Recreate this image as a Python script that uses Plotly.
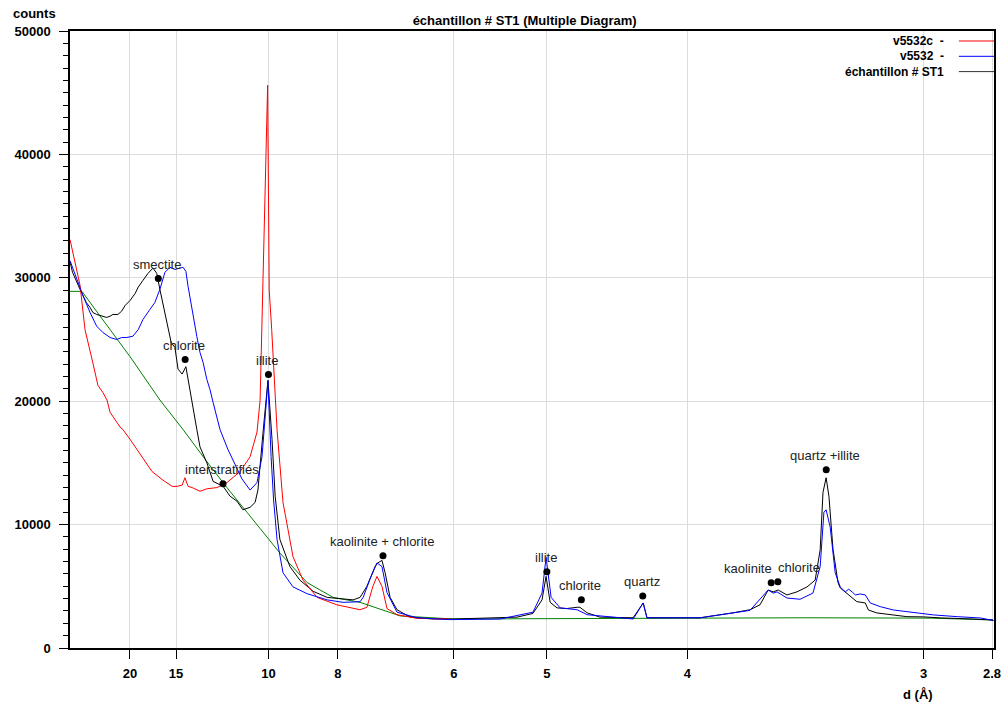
import math
import plotly.graph_objects as go

WAVELENGTH = 1.5406  # Cu K-alpha (Å)


def d_to_2theta(d):
    return 2 * math.degrees(math.asin(WAVELENGTH / (2 * d)))


# ---------------- data (x in degrees 2-theta, y in counts) ----------------
red_2theta = [2.50, 2.82, 2.98, 3.14, 3.23, 3.39, 3.55, 3.68, 3.78, 4.10, 4.19, 4.42,
              4.73, 5.12, 5.47, 5.76, 5.92, 6.08, 6.17, 6.27, 6.40, 6.65, 6.87, 7.19,
              7.51, 7.93, 8.25, 8.47, 8.57, 8.66, 8.81, 8.86, 8.94, 9.11, 9.30, 9.46,
              9.62, 9.94, 10.39, 11.02, 11.76, 11.98, 12.17, 12.30, 12.46, 12.62, 12.94,
              13.58, 14.41, 14.63]
red_counts = [33100, 29400, 25800, 23900, 23100, 21300, 20700, 20100, 19100, 17900, 17700, 16900,
              15700, 14300, 13600, 13100, 13100, 13200, 13800, 13100, 13000, 12700, 12900, 13000,
              13400, 14300, 15500, 17500, 20100, 29000, 45600, 29000, 25800, 17700, 11800, 9600,
              7400, 5500, 4100, 3500, 3100, 3300, 5000, 5800, 5000, 3200, 2700,
              2400, 2350, 2350]

black_2theta = [2.50, 2.58, 2.82, 3.02, 3.14, 3.23, 3.35, 3.51, 3.67, 3.78, 3.87, 4.03,
                4.15, 4.26, 4.42, 4.58, 4.68, 4.83, 4.99, 5.15, 5.27, 5.37, 5.58, 5.73,
                5.85, 5.95, 6.08, 6.20, 6.33, 6.43, 6.55, 6.65, 6.87, 7.07, 7.39, 7.61,
                7.83, 8.02, 8.25, 8.41, 8.50, 8.66, 8.82, 8.95, 9.05, 9.20, 9.52, 9.84,
                10.26, 10.71, 11.22, 11.54, 11.76, 11.98, 12.24, 12.33, 12.46, 12.56, 12.72,
                12.94, 13.36, 14.09, 14.73, 15.69, 16.77, 17.28, 17.57, 17.70, 17.83, 18.05,
                18.37, 18.69, 18.78, 19.01, 19.42, 20.48, 20.80, 20.92, 21.56, 22.62, 23.67,
                24.21, 24.53, 24.79, 24.95, 25.11, 25.39, 25.71, 26.03, 26.29, 26.45, 26.54,
                26.64, 26.73, 26.86, 27.02, 27.09, 27.30, 27.50, 27.62, 27.89, 27.99, 28.26,
                28.69, 29.22, 29.75, 30.29, 31.34, 31.97]
black_counts = [31300, 30450, 29060, 28000, 27600, 27190, 27030, 26890, 26790, 26890, 27030, 27030,
                27300, 27760, 28170, 28730, 29250, 29790, 30360, 30790, 30360, 29060, 26620, 24760,
                24350, 22600, 22200, 22800, 20900, 19300, 17700, 16300, 15000, 13500, 13100, 12300,
                11900, 11200, 11400, 11800, 12800, 17400, 21700, 16900, 12300, 8800, 6600, 5500,
                4600, 4100, 4000, 3900, 4100, 5000, 6600, 6900, 7100, 6100, 4100,
                3100, 2500, 2350, 2350, 2400, 2500, 2800, 3900, 5800, 3700, 3250,
                3200, 3300, 3300, 2850, 2500, 2450, 3650, 2450, 2450, 2450, 2850,
                3100, 3500, 4700, 4550, 4700, 4300, 4550, 4950, 5500, 7950, 12600,
                13800, 12300, 8000, 5300, 4870, 4460, 4060, 3760, 3650, 3080, 2840,
                2680, 2540, 2520, 2440, 2350, 2270]

blue_2theta = [2.50, 2.71, 2.92, 3.14, 3.35, 3.55, 3.78, 3.99, 4.15, 4.31, 4.51, 4.68,
               4.83, 5.05, 5.21, 5.37, 5.53, 5.69, 5.85, 6.11, 6.20, 6.27, 6.43, 6.55,
               6.65, 6.75, 6.87, 6.97, 7.07, 7.29, 7.54, 7.77, 7.99, 8.25, 8.47, 8.63,
               8.73, 8.82, 8.92, 9.00, 9.11, 9.30, 9.62, 10.07, 10.71, 11.22, 11.76, 11.86,
               12.08, 12.30, 12.46, 12.62, 12.94, 13.58, 14.63, 16.23, 17.28, 17.57, 17.70,
               17.86, 18.15, 18.69, 19.01, 20.48, 20.80, 20.92, 22.62, 24.21, 24.79, 24.95,
               25.07, 25.39, 25.81, 26.22, 26.45, 26.57, 26.64, 26.77, 26.93, 27.09, 27.25,
               27.36, 27.47, 27.57, 27.73, 27.89, 28.05, 28.37, 28.79, 29.22, 29.65, 30.07,
               30.83, 31.58, 31.99]
blue_counts = [31390, 29870, 28520, 27190, 26080, 25570, 25160, 25000, 25160, 25160, 25270, 25810,
               26620, 27430, 28000, 29060, 30440, 30850, 30680, 30850, 30520, 29300, 26870, 25240,
               23950, 23130, 21750, 20940, 19890, 17700, 16100, 14800, 13700, 12800, 13400, 15500,
               18800, 21600, 15500, 12000, 8800, 6100, 4950, 4400, 3900, 3700, 3750, 4100,
               5600, 6900, 6600, 4500, 2900, 2450, 2300, 2350, 2900, 4450, 7350,
               4100, 3250, 3100, 2700, 2350, 3650, 2450, 2450, 3050, 4700, 4450,
               4550, 4050, 3950, 4450, 6600, 11000, 11200, 9800, 6100, 4950, 4550,
               4760, 4550, 4300, 4380, 4300, 3650, 3350, 3080, 2940, 2840, 2680,
               2540, 2430, 2220]

green_2theta = [2.50, 2.88, 3.46, 4.42, 5.37, 6.11, 6.87, 7.51, 8.15, 9.20, 10.07, 10.90,
                11.76, 13.04, 14.73, 20.00, 26.00, 30.00, 31.97]
green_counts = [28900, 28900, 26900, 23600, 20100, 17700, 15100, 13000, 11000, 7700, 5300, 4100,
                3700, 2600, 2350, 2400, 2450, 2420, 2270]

# peak identifications
peak_labels = ["smectite", "chlorite", "illite", "interstratifiés", "kaolinite + chlorite",
               "illite", "chlorite", "quartz", "kaolinite", "chlorite", "quartz +illite"]
peak_d = [16.6, 14.3, 10.0, 11.96, 7.08, 5.0, 4.71, 4.27, 3.575, 3.545, 3.343]
peak_counts = [29950, 23380, 22160, 13310, 7470, 6170, 3900, 4220, 5280, 5360, 14450]

# axis ticks (d-spacing in Å)
d_ticks = [20, 15, 10, 8, 6, 5, 4, 3, 2.8]
d_tick_labels = ["20", "15", "10", "8", "6", "5", "4", "3", "2.8"]
y_ticks = [0, 10000, 20000, 30000, 40000, 50000]

legend_names = ["v5532c\u00a0\u00a0-", "v5532\u00a0\u00a0-", "échantillon # ST1"]
legend_colors = ["#ff0000", "#0000ff", "#333333"]

FONT = "Liberation Sans, Arial, sans-serif"

fig = go.Figure()
fig.add_trace(go.Scatter(x=green_2theta, y=green_counts, mode="lines",
                         line=dict(color="#008000", width=1)))
fig.add_trace(go.Scatter(x=black_2theta, y=black_counts, mode="lines",
                         line=dict(color="#000000", width=1)))
fig.add_trace(go.Scatter(x=red_2theta, y=red_counts, mode="lines",
                         line=dict(color="#ff0000", width=1)))
fig.add_trace(go.Scatter(x=blue_2theta, y=blue_counts, mode="lines",
                         line=dict(color="#0000ff", width=1)))

peak_x = [d_to_2theta(d) for d in peak_d]
fig.add_trace(go.Scatter(x=peak_x, y=peak_counts, mode="markers",
                         marker=dict(color="black", size=7)))
# the two close 3.5 Å labels are pushed apart so they stay readable
label_style = {8: ("right", 3), 9: ("left", -2)}
for i, (lab, px, py) in enumerate(zip(peak_labels, peak_x, peak_counts)):
    anchor, shift = label_style.get(i, ("center", -1))
    fig.add_annotation(x=px, y=py, text=lab, showarrow=False, yshift=14, xshift=shift,
                       xanchor=anchor,
                       font=dict(family=FONT, size=13, color="#222222"))

# legend (drawn manually: text then line sample)
for i, (name, col) in enumerate(zip(legend_names, legend_colors)):
    ypos = 0.9838 - i * 0.0248
    fig.add_annotation(xref="paper", yref="paper", x=0.948, y=ypos, text="<b>%s</b>" % name,
                       showarrow=False, xanchor="right", yanchor="middle",
                       font=dict(family=FONT, size=12, color="black"))
    fig.add_shape(type="line", xref="paper", yref="paper", x0=0.962, x1=1.0, y0=ypos, y1=ypos,
                  line=dict(color=col, width=1))

fig.add_annotation(xref="paper", yref="paper", x=-0.0639, y=1.0276, text="<b>counts</b>",
                   showarrow=False, xanchor="left", yanchor="middle",
                   font=dict(family=FONT, size=13, color="black"))
fig.add_annotation(xref="paper", yref="paper", x=0.918, y=-0.076, text="<b>d (Å)</b>",
                   showarrow=False, xanchor="center", yanchor="middle",
                   font=dict(family=FONT, size=13, color="black"))

fig.update_layout(
    width=1003, height=709,
    autosize=False,
    margin=dict(l=70, r=9, t=31, b=61, autoexpand=False),
    paper_bgcolor="white", plot_bgcolor="white",
    showlegend=False,
    title=dict(text="<b>échantillon # ST1 (Multiple Diagram)</b>", x=0.492, xref="paper",
               y=1 - 20 / 709, yanchor="middle", xanchor="center",
               font=dict(family=FONT, size=13, color="black")),
    xaxis=dict(range=[2.5, 32.0], tickvals=[d_to_2theta(d) for d in d_ticks],
               ticktext=["<b>%s</b>" % t for t in d_tick_labels],
               ticks="outside", ticklen=9, tickcolor="black", tickwidth=1,
               showgrid=True, gridcolor="#dcdcdc", gridwidth=1,
               showline=True, linecolor="black", linewidth=1.5, mirror=True,
               zeroline=False, ticklabelstandoff=4, automargin=False,
               tickfont=dict(family=FONT, size=13, color="black")),
    yaxis=dict(range=[0, 50000], tickvals=y_ticks,
               ticktext=["<b>%d</b>" % v for v in y_ticks],
               ticks="outside", ticklen=9, tickcolor="black", tickwidth=1,
               minor=dict(dtick=1000, ticks="outside", ticklen=5, tickcolor="black", showgrid=False),
               showgrid=True, gridcolor="#dcdcdc", gridwidth=1,
               showline=True, linecolor="black", linewidth=1.5, mirror=True,
               zeroline=False, ticklabelstandoff=6, automargin=False,
               tickfont=dict(family=FONT, size=13, color="black")),
)

fig.write_html("out.html", config={"displayModeBar": False, "responsive": False},
               post_script="document.body.style.margin='0';")
